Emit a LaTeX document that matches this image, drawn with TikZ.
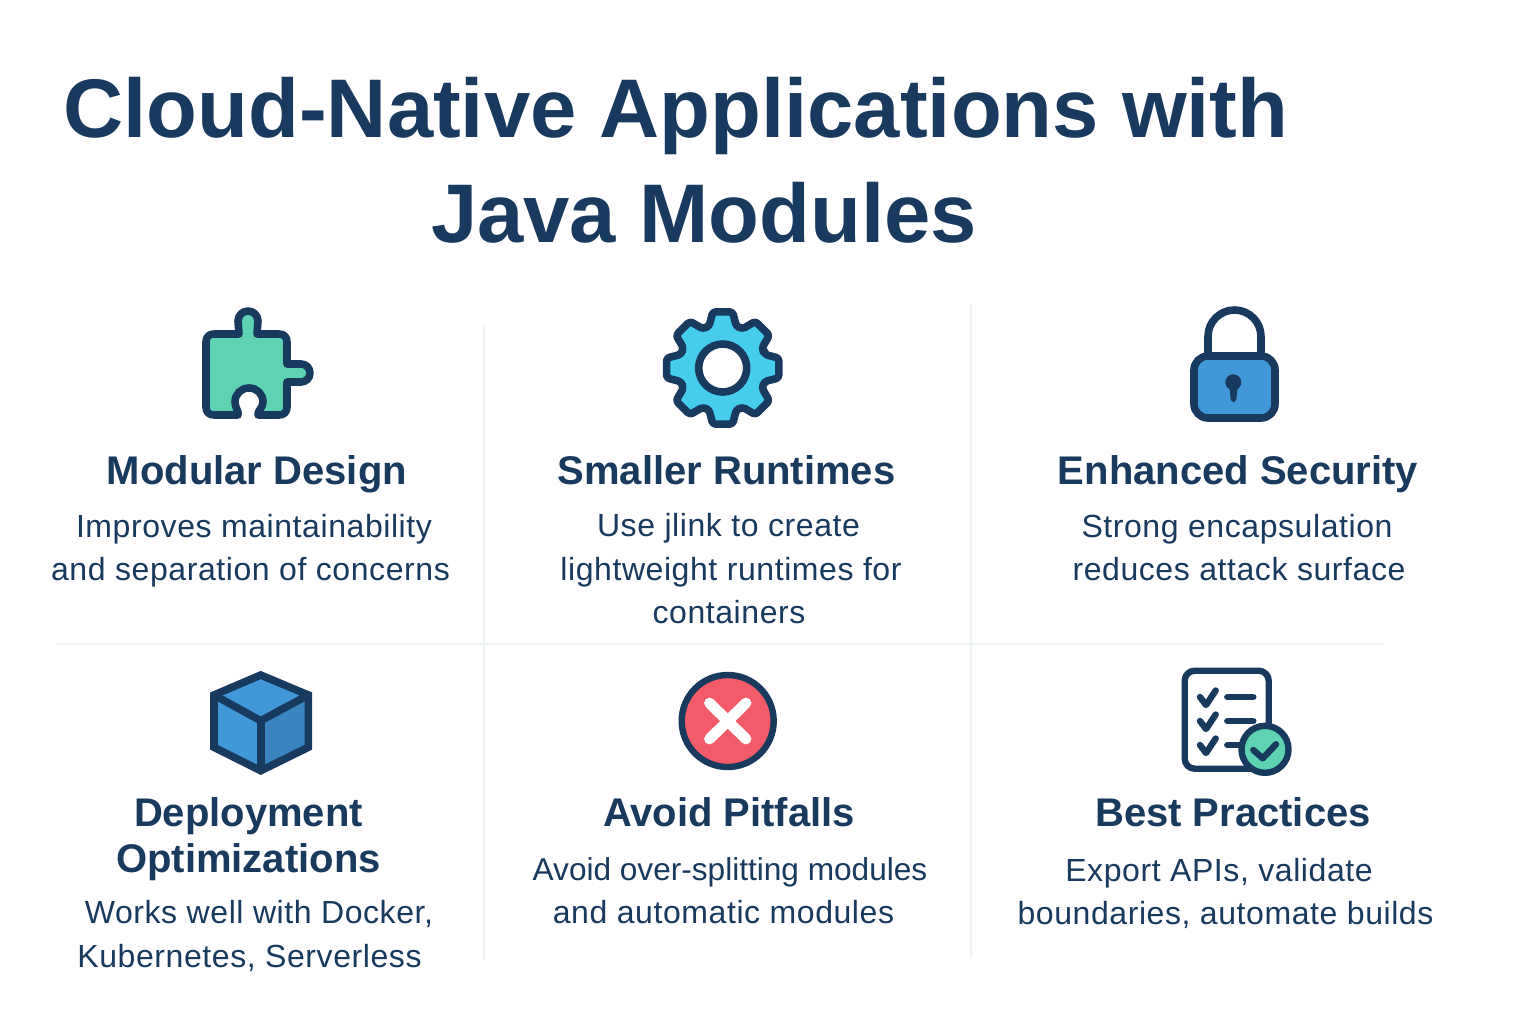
\documentclass[tikz,border=0pt]{standalone}
\usepackage{fontspec}
\setmainfont{Liberation Sans}
\newfontfamily\bodyfont[LetterSpace=1.8]{Liberation Sans}
\newfontfamily\tightfont{Liberation Sans}
\definecolor{navy}{HTML}{183A5E}
\definecolor{mint}{HTML}{5DD3B3}
\definecolor{sky}{HTML}{46CDEB}
\definecolor{azure}{HTML}{4198D8}
\definecolor{azuredark}{HTML}{3A85BF}
\definecolor{coral}{HTML}{F45B69}
\definecolor{rule}{HTML}{EDF2F5}

\begin{document}
\begin{tikzpicture}
[x=0.5pt,y=-0.5pt]
\tikzset{
	titletext/.style = {anchor=base, text=navy, inner sep=0, font=\fontsize{41.6}{44}\selectfont\bfseries},
	headtext/.style = {anchor=base, text=navy, inner sep=0, font=\fontsize{20}{24}\selectfont\bfseries},
	bodytext/.style = {anchor=base, text=navy, inner sep=0, font=\fontsize{16}{20}\selectfont\bodyfont},
	iconline/.style = {draw=navy, line width=3.8pt, line join=round, line cap=round},
	divider/.style = {draw=rule, line width=0.8pt}
}
\useasboundingbox (0,0) rectangle (1536,1024);
\fill[white] (0,0) rectangle (1536,1024);

\draw[divider] (484,325) -- (484,960);
\draw[divider] (971,305) -- (971,958);
\draw[divider] (55,644) -- (1385,644);

\node[titletext] (title1) at (676,137) {Cloud-Native Applications with};
\node[titletext] (title2) at (704,242) {Java Modules};

% puzzle
\draw[iconline, fill=mint] (239,334) -- (238,321)
	.. controls (238,315) and (243,311) .. (248,311) .. controls (253,311) and (258,315) .. (258,321)
	-- (257,334) -- (279,334) .. controls (284,334) and (287,337) .. (287,342)
	-- (287,364) -- (301,364) .. controls (306,364) and (310,368) .. (310,373)
	.. controls (310,378) and (306,382) .. (301,382) -- (287,382)
	-- (287,407) .. controls (287,412) and (284,415) .. (279,415) -- (258,415)
	.. controls (257,411) and (263,408) .. (263,402) .. controls (263,394) and (257,388) .. (249,388)
	.. controls (241,388) and (235,394) .. (235,402) .. controls (235,408) and (239,411) .. (238,415)
	-- (214,415) .. controls (209,415) and (206,412) .. (206,407) -- (206,342)
	.. controls (206,337) and (209,334) .. (214,334) -- cycle;
\node[headtext] (head1) at (257,484) {Modular Design};
\node[bodytext] (body1a) at (254,537) {Improves maintainability};
\node[bodytext] (body1b) at (250.5,580) {and separation of concerns};

% gear
\begin{scope}[shift={(722.7,368)}]
	\draw[iconline, fill=sky, rounded corners=1.5pt] (-18:44)
		\foreach \t in {0,45,...,315} { -- (\t-18:44) -- (\t-10:57) -- (\t+10:57) -- (\t+18:44) } -- cycle;
	\draw[iconline, fill=white] (0,0) circle (24);
\end{scope}
\node[headtext] (head2) at (726.5,484) {Smaller Runtimes};
\node[bodytext] (body2a) at (728.5,536) {Use jlink to create};
\node[bodytext] (body2b) at (731,580) {lightweight runtimes for};
\node[bodytext] (body2c) at (729,623) {containers};

% lock
\draw[iconline] (1208,356) -- (1208,336.5) arc[start angle=180, end angle=360, radius=26.5] -- (1261,356);
\draw[iconline, fill=azure, rounded corners=7pt] (1194,356) rectangle (1275,418);
\fill[navy] (1233.3,382.3) circle (8);
\fill[navy, rounded corners=1pt] (1229,384) -- (1231,402) -- (1236,402) -- (1238,384) -- cycle;
\node[headtext] (head3) at (1238,484) {Enhanced Security};
\node[bodytext] (body3a) at (1237,537) {Strong encapsulation};
\node[bodytext] (body3b) at (1239,580) {reduces attack surface};

% cube
\fill[azure] (260.7,675) -- (308.3,695) -- (260.7,720.7) -- (214,695) -- cycle;
\fill[azure] (214,695) -- (260.7,720.7) -- (260.7,770.7) -- (214,747.3) -- cycle;
\fill[azuredark] (308.3,695) -- (260.7,720.7) -- (260.7,770.7) -- (308.3,747.3) -- cycle;
\draw[iconline] (214,695) -- (260.7,720.7) -- (308.3,695);
\draw[iconline] (260.7,720.7) -- (260.7,770.7);
\draw[iconline, line join=miter] (260.7,675) -- (308.3,695) -- (308.3,747.3) -- (260.7,770.7) -- (214,747.3) -- (214,695) -- cycle;
\node[headtext] (head4a) at (248.5,826) {Deployment};
\node[headtext] (head4b) at (248.5,872) {Optimizations};
\node[bodytext] (body4a) at (259,923) {Works well with Docker,};
\node[bodytext] (body4b) at (249.5,967) {Kubernetes, Serverless};

% cross
\draw[iconline, line width=3.2pt, fill=coral] (727.7,721) circle (46);
\draw[draw=white, line width=5.4pt, line cap=round] (709.5,703) -- (746,739);
\draw[draw=white, line width=5.4pt, line cap=round] (746,703) -- (709.5,739);
\node[headtext] (head5) at (729,826) {Avoid Pitfalls};
\node[bodytext, font=\fontsize{15.8}{20}\selectfont\tightfont] (body5a) at (730,880) {Avoid over-splitting modules};
\node[bodytext] (body5b) at (723.5,923) {and automatic modules};

% checklist
\draw[iconline, line width=3.2pt, fill=white, rounded corners=5pt] (1184.7,670.7) rectangle (1268.7,768.7);
\foreach \y in {697,721,745} {
	\draw[iconline, line width=3.2pt] (1200,\y) -- (1206,\y+8) -- (1215.7,\y-6.5);
}
\draw[iconline, line width=3.2pt] (1227.3,697) -- (1253.3,697);
\draw[iconline, line width=3.2pt] (1227.3,721) -- (1253.3,721);
\draw[iconline, line width=3.2pt] (1227.3,745) -- (1242,745);
\draw[iconline, line width=3.2pt, fill=mint] (1265,749.3) circle (23.5);
\draw[iconline, line width=3.2pt] (1253.3,750) -- (1262.7,758.3) -- (1276,744.3);
\node[headtext] (head6) at (1233,826) {Best Practices};
\node[bodytext] (body6a) at (1219,881) {Export APIs, validate};
\node[bodytext] (body6b) at (1225.5,924) {boundaries, automate builds};
\end{tikzpicture}
\end{document}
